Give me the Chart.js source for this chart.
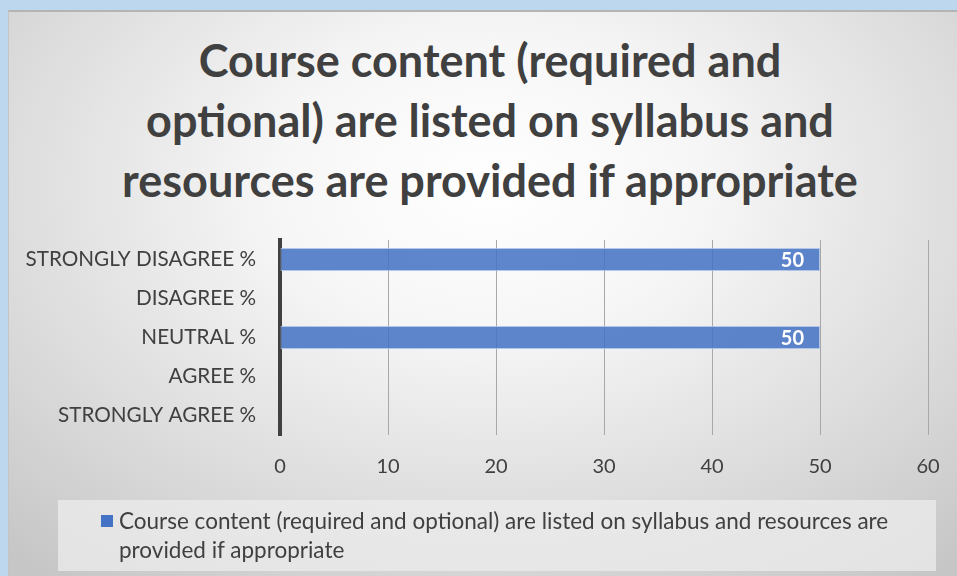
<!DOCTYPE html>
<html lang="en">
  <head>
    <meta charset="UTF-8" />
    <title>Course content chart</title>
    <script src="https://cdn.jsdelivr.net/npm/chart.js@4.4.1/dist/chart.umd.min.js"></script>
    <style>
      body {
        margin: 0;
        width: 957px;
        height: 576px;
        overflow: hidden;
        background: #bdd7ee;
        position: relative;
      }
      .frame {
        position: absolute;
        left: 8px;
        top: 10px;
        width: 962px;
        height: 580px;
        border-top: 2px solid #b4b4b4;
        border-left: 1px solid #c4c4c4;
        background: radial-gradient(ellipse 75% 85% at 50% 30%, #ffffff 0%, #f6f6f6 30%, #dedede 65%, #c6c6c6 100%);
      }
      .title {
        position: absolute;
        left: 0;
        top: 18px;
        width: 962px;
        text-align: center;
        font-family: Lato, "Open Sans", sans-serif;
        font-weight: bold;
        font-size: 45px;
        line-height: 60px;
        color: #404040;
      }
      .chart-box {
        position: absolute;
        left: 0;
        top: 0;
        width: 962px;
        height: 500px;
      }
      .legend {
        position: absolute;
        left: 49px;
        top: 488px;
        width: 878px;
        height: 71px;
        background: rgba(236, 236, 236, 0.75);
        font-family: Lato, "Open Sans", sans-serif;
        font-size: 22.5px;
        line-height: 29px;
        color: #404040;
      }
      .legend .swatch {
        position: absolute;
        left: 43px;
        top: 15px;
        width: 12px;
        height: 12px;
        background: #4472c4;
      }
      .legend .text {
        position: absolute;
        left: 61px;
        top: 6px;
        width: 800px;
      }
    </style>
  </head>
  <body>
    <div class="frame">
      <div class="title" id="title"></div>
      <div class="chart-box"><canvas id="chart" width="962" height="500"></canvas></div>
      <div class="legend">
        <div class="swatch"></div>
        <div class="text" id="legend-text"></div>
      </div>
    </div>

    <script>
      // Values
      const categories = [
        "STRONGLY DISAGREE %",
        "DISAGREE %",
        "NEUTRAL %",
        "AGREE %",
        "STRONGLY AGREE %",
      ];
      const values = [50, 0, 50, 0, 0];
      const seriesName =
        "Course content (required and optional) are listed on syllabus and resources are provided if appropriate";
      const titleLines = [
        "Course content (required and",
        "optional) are listed on syllabus and",
        "resources are provided if appropriate",
      ];
      const axisMin = 0;
      const axisMax = 60;
      const axisStep = 10;

      // title and legend text
      const titleEl = document.getElementById("title");
      titleLines.forEach((line) => {
        const d = document.createElement("div");
        d.textContent = line;
        titleEl.appendChild(d);
      });
      document.getElementById("legend-text").textContent = seriesName;

      // white value labels at the end of each bar
      const barLabels = {
        id: "barLabels",
        afterDatasetsDraw(chart) {
          const ctx = chart.ctx;
          const meta = chart.getDatasetMeta(0);
          ctx.save();
          ctx.fillStyle = "#ffffff";
          ctx.font = "bold 20px Lato, 'Open Sans', sans-serif";
          ctx.textAlign = "right";
          ctx.textBaseline = "middle";
          meta.data.forEach((bar, i) => {
            const v = chart.data.datasets[0].data[i];
            if (!v) return;
            ctx.fillText(String(v), bar.x - 16, bar.y + 1);
          });
          ctx.restore();
        },
      };

      const chart = new Chart(document.getElementById("chart"), {
        type: "bar",
        data: {
          labels: categories,
          datasets: [
            {
              label: seriesName,
              data: values,
              backgroundColor: "rgba(68, 114, 196, 0.86)",
              borderColor: "rgba(170, 193, 232, 0.9)",
              borderWidth: 1,
              borderSkipped: false,
              categoryPercentage: 1,
              barPercentage: 0.59,
            },
          ],
        },
        options: {
          indexAxis: "y",
          responsive: false,
          maintainAspectRatio: false,
          animation: false,
          layout: {
            padding: { left: 0, right: 43, top: 228, bottom: 13 },
          },
          plugins: {
            legend: { display: false },
            tooltip: { enabled: false },
            title: { display: false },
          },
          scales: {
            x: {
              min: axisMin,
              max: axisMax,
              ticks: {
                stepSize: axisStep,
                color: "#404040",
                font: { family: "Lato, 'Open Sans', sans-serif", size: 20 },
                padding: 20,
              },
              grid: {
                color: "#a8a8a8",
                lineWidth: 1,
                drawTicks: false,
              },
              border: { display: false },
            },
            y: {
              afterFit(scale) {
                scale.width = 271;
              },
              ticks: {
                color: "#404040",
                font: { family: "Lato, 'Open Sans', sans-serif", size: 20.7 },
                padding: 24,
              },
              grid: { display: false, drawTicks: false },
              border: { display: true, color: "#404040", width: 4 },
            },
          },
        },
        plugins: [barLabels],
      });
    </script>
  </body>
</html>
